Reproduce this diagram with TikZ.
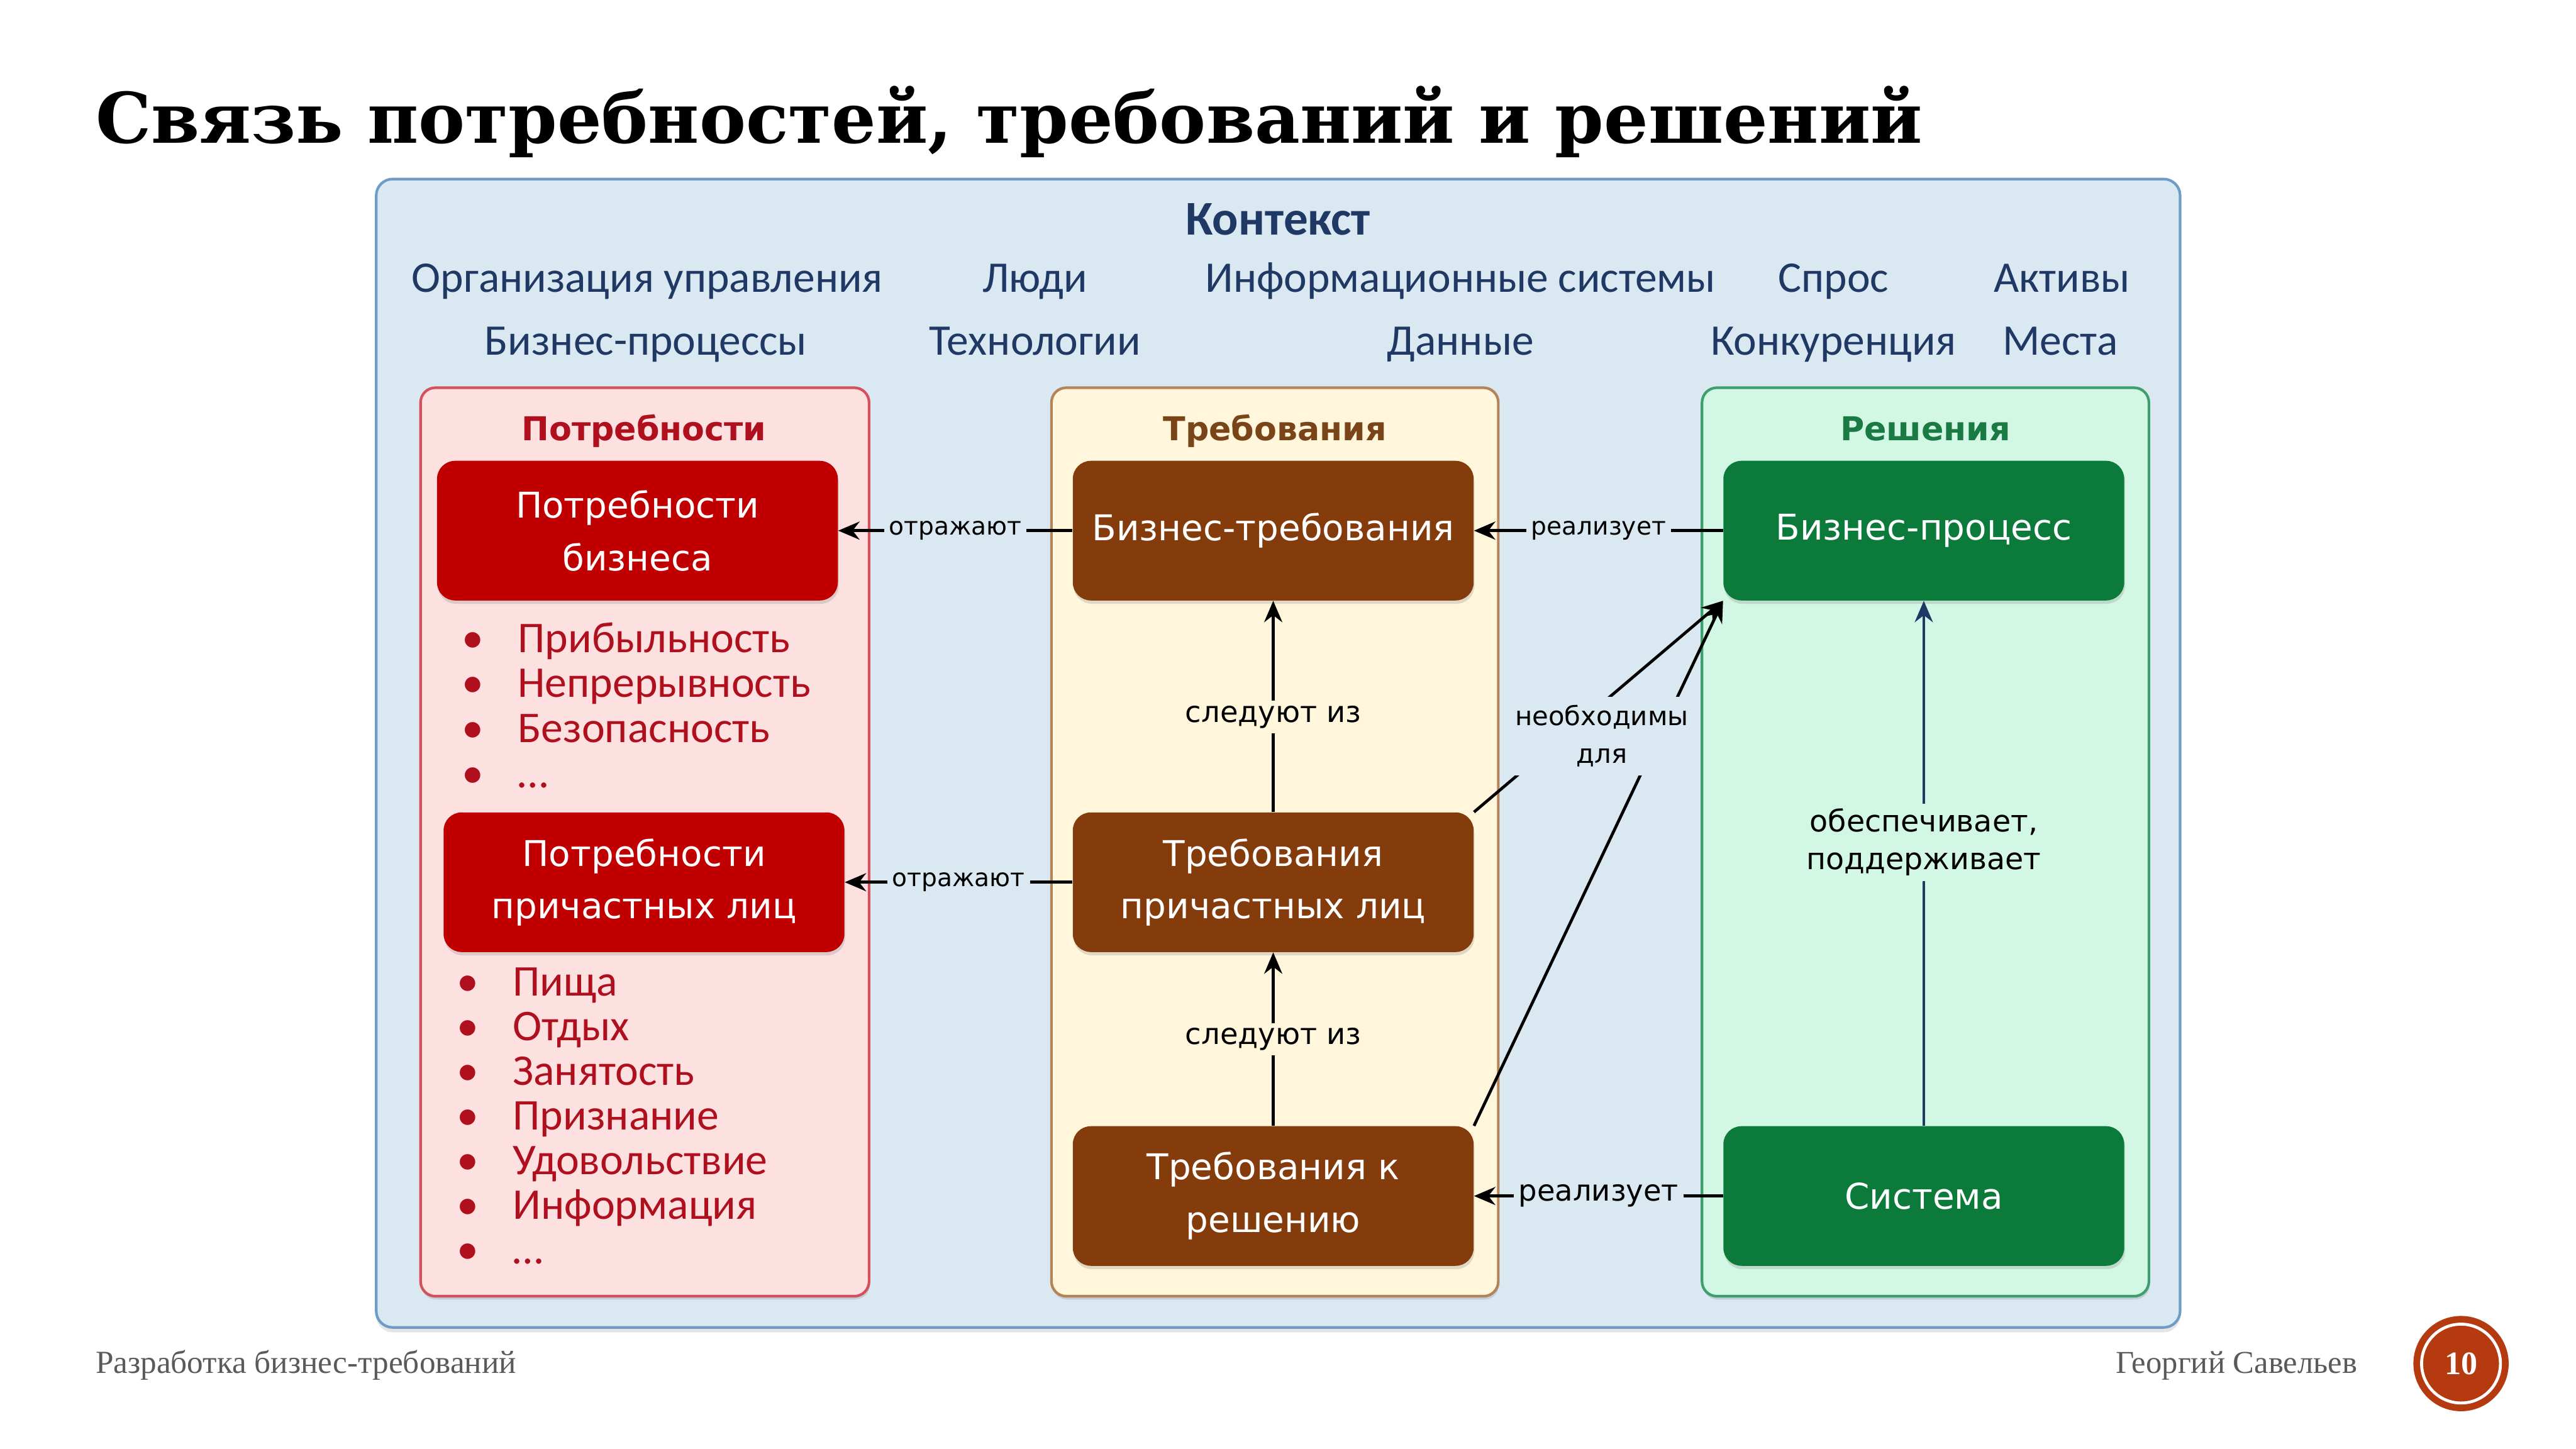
\documentclass[tikz,border=0pt]{standalone}
\usepackage{fontspec}
\setmainfont{Carlito}
\newfontfamily\dv{DejaVu Sans}
\newfontfamily\dvser{DejaVu Serif}
\newfontfamily\lser{Liberation Serif}
\usetikzlibrary{arrows.meta,shadows}
\definecolor{ctxbg}{HTML}{DAE8F2}
\definecolor{ctxln}{HTML}{6E9CC6}
\definecolor{navy}{HTML}{1F3864}
\definecolor{ndbg}{HTML}{FDE1E1}
\definecolor{ndln}{HTML}{D4505A}
\definecolor{ndbox}{HTML}{C00000}
\definecolor{ndtxt}{HTML}{B0101E}
\definecolor{rqbg}{HTML}{FFF6DC}
\definecolor{rqln}{HTML}{B58358}
\definecolor{rqbox}{HTML}{843C0C}
\definecolor{rqtxt}{HTML}{7A4419}
\definecolor{slbg}{HTML}{D2F7E4}
\definecolor{slln}{HTML}{3E9F6E}
\definecolor{slbox}{HTML}{0B7A3B}
\definecolor{sltxt}{HTML}{1A7A43}
\definecolor{foot}{HTML}{5A5A5A}
\definecolor{pgc}{HTML}{B53A0F}
\tikzset{
  panel/.style={draw, rounded corners=9pt, line width=1.6pt,
    drop shadow={shadow xshift=0.5pt, shadow yshift=-2pt, opacity=0.25}},
  bigbox/.style={rounded corners=11pt, minimum width=244pt, minimum height=85pt,
    text=white, align=center, font=\dv\fontsize{21.6}{32}\selectfont,
    drop shadow={shadow xshift=0.5pt, shadow yshift=-2pt, opacity=0.25}},
  ctxword/.style={anchor=base, text=navy, font=\fontsize{26.6}{30}\selectfont},
  ptitle/.style={anchor=base, font=\dv\bfseries\fontsize{20}{24}\selectfont},
  bitem/.style={anchor=base west, font=\fontsize{26.7}{28}\selectfont, inner sep=0pt},
  lbl/.style={font=\dv\fontsize{#1}{23}\selectfont, inner sep=3pt, align=center},
  arr/.style={-{Stealth[length=13pt,width=11pt]}, line width=1.8pt},
}
\begin{document}
\begin{tikzpicture}[x=1pt,y=-1pt]
\useasboundingbox[fill=white] (0,0) rectangle (1568,882);
% title
\node[anchor=base west, inner sep=0pt, font=\dvser\bfseries\fontsize{42.5}{50}\selectfont] (title) at (58,87) {Связь потребностей, требований и решений};
% context box
\draw[ctxln, fill=ctxbg, rounded corners=10pt, line width=1.6pt,
  drop shadow={shadow xshift=0pt, shadow yshift=-3pt, opacity=0.2}] (229,109) rectangle (1327,808);
\node[anchor=base, text=navy, font=\bfseries\fontsize{29.5}{32}\selectfont] (ctx) at (778,143) {Контекст};
\node[ctxword] (c1) at (394,178) {Организация управления};
\node[ctxword] (c2) at (630,178) {Люди};
\node[ctxword] (c3) at (889,178) {Информационные системы};
\node[ctxword] (c4) at (1116,178) {Спрос};
\node[ctxword] (c5) at (1255,178) {Активы};
\node[ctxword] (c6) at (393,216) {Бизнес-процессы};
\node[ctxword] (c7) at (630,216) {Технологии};
\node[ctxword] (c8) at (889,216) {Данные};
\node[ctxword] (c9) at (1116,216) {Конкуренция};
\node[ctxword] (c10) at (1254,216) {Места};
% panels
\draw[panel, ndln, fill=ndbg] (256,236) rectangle (529,789);
\draw[panel, rqln, fill=rqbg] (640,236) rectangle (912,789);
\draw[panel, slln, fill=slbg] (1036,236) rectangle (1308,789);
\node[ptitle, text=ndtxt] (tn) at (392,268) {Потребности};
\node[ptitle, text=rqtxt] (tr) at (776,268) {Требования};
\node[ptitle, text=sltxt] (ts) at (1172,268) {Решения};
% boxes
\node[bigbox, fill=ndbox] (pb) at (388,323) {Потребности\\бизнеса};
\node[bigbox, fill=ndbox] (pl) at (392,537) {Потребности\\причастных лиц};
\node[bigbox, fill=rqbox] (brq) at (775,323) {Бизнес-требования};
\node[bigbox, fill=rqbox] (tpl) at (775,537) {Требования\\причастных лиц};
\node[bigbox, fill=rqbox] (trs) at (775,728) {Требования к\\решению};
\node[bigbox, fill=slbox] (bp) at (1171,323) {Бизнес-процесс};
\node[bigbox, fill=slbox] (sys) at (1171,728) {Система};
% bullets
\foreach \t [count=\i] in {Прибыльность,Непрерывность,Безопасность,\ldots}
  \node[bitem, text=ndtxt] (ba\i) at (281,397+27.5*\i-27.5) {\makebox[34pt][l]{•}\t};
\foreach \t [count=\i] in {Пища,Отдых,Занятость,Признание,Удовольствие,Информация,\ldots}
  \node[bitem, text=ndtxt] (bb\i) at (278,606+27.2*\i-27.2) {\makebox[34pt][l]{•}\t};
% connectors
\draw[arr] (brq.west) -- node[lbl=15, fill=ctxbg] (l1) {отражают} (pb.east);
\draw[arr] (tpl.west) -- node[lbl=15, fill=ctxbg] (l2) {отражают} (pl.east);
\draw[arr] (tpl.north) -- node[pos=0.45, lbl=17.8, fill=rqbg] (l3) {следуют из} (brq.south);
\draw[arr] (trs.north) -- node[lbl=17.8, fill=rqbg] (l4) {следуют из} (tpl.south);
\draw[arr] (bp.west) -- node[lbl=15, fill=ctxbg] (l5) {реализует} (brq.east);
\draw[arr] (sys.west) -- node[lbl=17.8, fill=ctxbg] (l6) {реализует} (trs.east);
\draw[arr, navy] (sys.north) -- node[pos=0.54, lbl=18.2, fill=slbg, text=black] (l7) {обеспечивает,\\поддерживает} (bp.south);
\draw[arr] (tpl.north east) -- (bp.south west);
\draw[arr] (trs.north east) -- (bp.south west);
\node[lbl=16, fill=ctxbg, inner sep=5pt] (l8) at (975,448) {необходимы\\для};
% footer
\node[anchor=base west, inner sep=0pt, text=foot, font=\lser\fontsize{19.6}{22}\selectfont] (f1) at (58,836) {Разработка бизнес-требований};
\node[anchor=base east, inner sep=0pt, text=foot, font=\lser\fontsize{19.4}{22}\selectfont] (f2) at (1435,836) {Георгий Савельев};
\node[circle, fill=pgc, minimum size=58pt, inner sep=0pt] (pg) at (1498,830) {};
\draw[white, line width=1.8pt] (pg.center) circle (24pt);
\node[text=white, font=\lser\bfseries\fontsize{20}{22}\selectfont] (pgn) at (pg.center) {10};
\end{tikzpicture}
\end{document}
